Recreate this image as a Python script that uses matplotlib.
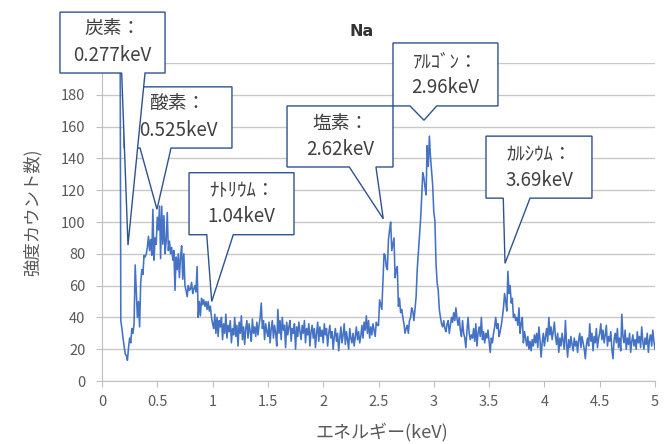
import numpy as np
import matplotlib
matplotlib.use("Agg")
import matplotlib.pyplot as plt
from matplotlib.patches import Polygon

plt.rcParams['font.family'] = ['Noto Sans CJK JP', 'DejaVu Sans']

# spectrum: counts every 0.01 keV starting at 0.16 keV
e_start = 0.16
e_step = 0.01
counts = [
    330, 38, 33, 27,
    22, 17, 16, 13, 21, 27, 24, 33, 30, 36,
    73, 56, 40, 50, 34, 62, 70, 67, 79, 78,
    80, 84, 91, 82, 89, 79, 108, 76, 90, 86,
    103, 95, 110, 77, 110, 86, 104, 80, 88, 106,
    82, 88, 80, 84, 76, 82, 57, 78, 70, 80,
    65, 78, 85, 64, 80, 60, 57, 53, 60, 57,
    58, 62, 55, 58, 60, 56, 72, 40, 50, 41,
    52, 48, 51, 47, 50, 45, 50, 44, 47, 40,
    36, 33, 42, 30, 40, 28, 38, 34, 40, 26,   # 1.00
    36, 30, 42, 27, 35, 31, 38, 24, 33, 29,
    40, 28, 35, 22, 37, 30, 41, 26, 34, 23,
    33, 38, 27, 36, 31, 25, 39, 30, 34, 28,
    37, 29, 35, 40, 49, 33, 38, 26, 36, 31,
    28, 37, 24, 33, 38, 27, 35, 30, 22, 45,
    30, 38, 26, 40, 32, 35, 21, 37, 29, 34,
    38, 25, 33, 30, 36, 20, 34, 28, 37, 31,
    26, 35, 30, 38, 24, 33, 29, 36, 22, 31,
    35, 27, 33, 21, 30, 37, 25, 34, 28, 32,
    24, 36, 29, 33, 22, 30, 35, 27, 31, 20,   # 2.00
    28, 33, 25, 30, 19, 27, 34, 24, 29, 36,
    23, 31, 26, 20, 33, 27, 24, 30, 22, 28,
    34, 26, 31, 24, 28, 35, 27, 37, 32, 41,
    30, 38, 27, 34, 29, 36, 32, 28, 37, 35,
    35, 51, 48, 45, 62, 80, 79, 72, 70, 89,
    95, 100, 82, 86, 90, 65, 70, 72, 47, 52,
    43, 45, 40, 36, 30, 33, 35, 30, 38, 40,
    46, 44, 38, 45, 53, 70, 80, 91, 101, 115,
    131, 128, 122, 117, 148, 135, 154, 141, 132, 123,
    106, 101, 74, 62, 57, 45, 40, 36, 34, 38,   # 3.00
    33, 31, 36, 38, 30, 35, 40, 37, 43, 38,
    46, 39, 35, 40, 32, 28, 38, 30, 27, 21,
    32, 40, 30, 26, 29, 27, 33, 25, 36, 22,
    30, 34, 28, 40, 26, 31, 24, 30, 27, 32,
    25, 18, 27, 24, 30, 34, 40, 33, 36, 28,
    31, 35, 40, 46, 55, 50, 44, 69, 55, 60,
    49, 52, 40, 42, 38, 40, 35, 46, 30, 36,
    40, 24, 31, 27, 22, 28, 20, 25, 19, 26,
    22, 29, 24, 30, 21, 34, 26, 15, 24, 30,
    22, 28, 33, 25, 40, 29, 34, 26, 31, 37,   # 4.00
    28, 23, 30, 18, 27, 22, 30, 25, 20, 38,
    24, 15, 26, 21, 28, 23, 19, 27, 22, 25,
    18, 26, 30, 21, 28, 24, 20, 14, 23, 27,
    22, 36, 25, 30, 19, 28, 24, 33, 21, 27,
    30, 36, 26, 32, 24, 29, 35, 22, 28, 25,
    31, 20, 14, 26, 30, 24, 33, 21, 27, 19,
    42, 28, 24, 32, 20, 27, 23, 30, 18, 25,
    29, 22, 26, 20, 31, 24, 28, 21, 34, 25,
    20, 27, 23, 30, 18, 26, 29, 22, 32, 25,
    20,
]
energy = e_start + e_step * np.arange(len(counts))

x_ticks = [0, 0.5, 1, 1.5, 2, 2.5, 3, 3.5, 4, 4.5, 5]
x_labels = ['0', '0.5', '1', '1.5', '2', '2.5', '3', '3.5', '4', '4.5', '5']
y_ticks = [0, 20, 40, 60, 80, 100, 120, 140, 160, 180, 200]
# the 200 label sits behind the carbon callout in the original
y_labels = ['0', '20', '40', '60', '80', '100', '120', '140', '160', '180', '']

# callouts: text, tip (keV, count), box (x0, x1, ytop, ybottom), wedge base (x0, x1)
callouts = [
    ("酸素：\n0.525keV", (0.497, 108), (0.20, 1.175, 185, 146.5), (0.344, 0.624)),
    ("炭素：\n0.277keV", (0.235, 85.5), (-0.38, 0.57, 232, 193.7), (0.178, 0.389)),
    ("ﾅﾄﾘｳﾑ：\n1.04keV", (0.992, 50), (0.787, 1.736, 131, 92), (0.947, 1.187)),
    ("塩素：\n2.62keV", (2.543, 102), (1.673, 2.631, 173, 134.6), (2.236, 2.477)),
    ("ｱﾙｺﾞﾝ：\n2.96keV", (2.911, 164), (2.631, 3.58, 212.6, 173), (2.785, 3.026)),
    ("ｶﾙｼｳﾑ：\n3.69keV", (3.644, 74), (3.472, 4.43, 154, 115), (3.628, 3.87)),
]

fig = plt.figure(figsize=(6.64, 4.44), dpi=100)
ax = fig.add_axes([102/664, 1 - 381/444, 553/664, 318/444])

ax.plot(energy, counts, color='#4472C4', lw=1.15, zorder=3)

ax.set_xlim(0, 5)
ax.set_ylim(0, 200)
ax.set_xticks(x_ticks)
ax.set_xticklabels(x_labels)
ax.set_yticks(y_ticks)
ax.set_yticklabels(y_labels)
ax.grid(axis='y', color='#C8C8C8', lw=1)
ax.set_axisbelow(True)
for s in ['top', 'right']:
    ax.spines[s].set_visible(False)
for s in ['left', 'bottom']:
    ax.spines[s].set_color('#BFBFBF')
ax.tick_params(colors='#BFBFBF', labelcolor='#595959', labelsize=10.5, length=4)
ax.tick_params(axis='x', pad=6)
ax.tick_params(axis='y', pad=8)

for i, (txt, tip, box, base) in enumerate(callouts):
    x0, x1, yt, yb = box
    pts = [(x0, yt), (x1, yt), (x1, yb), (base[1], yb), tip, (base[0], yb), (x0, yb)]
    z = 5 + i
    ax.add_patch(Polygon(pts, closed=True, facecolor='white', edgecolor='#2F528F',
                         lw=1, clip_on=False, zorder=z))
    ax.text((x0 + x1) / 2, (yt + yb) / 2, txt, ha='center', va='center',
            fontsize=13.5, color='#404040', linespacing=1.3, zorder=z + 0.5)

fig.text(362/664, 1 - 31/444, 'Na', ha='center', va='center', fontsize=11.5,
         fontweight='bold', color='#333333', family='DejaVu Sans')
fig.text(382/664, 1 - 432/444, 'エネルギー(keV)', ha='center', va='center',
         fontsize=13, color='#595959')
fig.text(32/664, 1 - 212/444, '強度カウント数)', ha='center', va='center',
         rotation=90, fontsize=12.5, color='#595959')

fig.savefig('out.png', dpi=100)
